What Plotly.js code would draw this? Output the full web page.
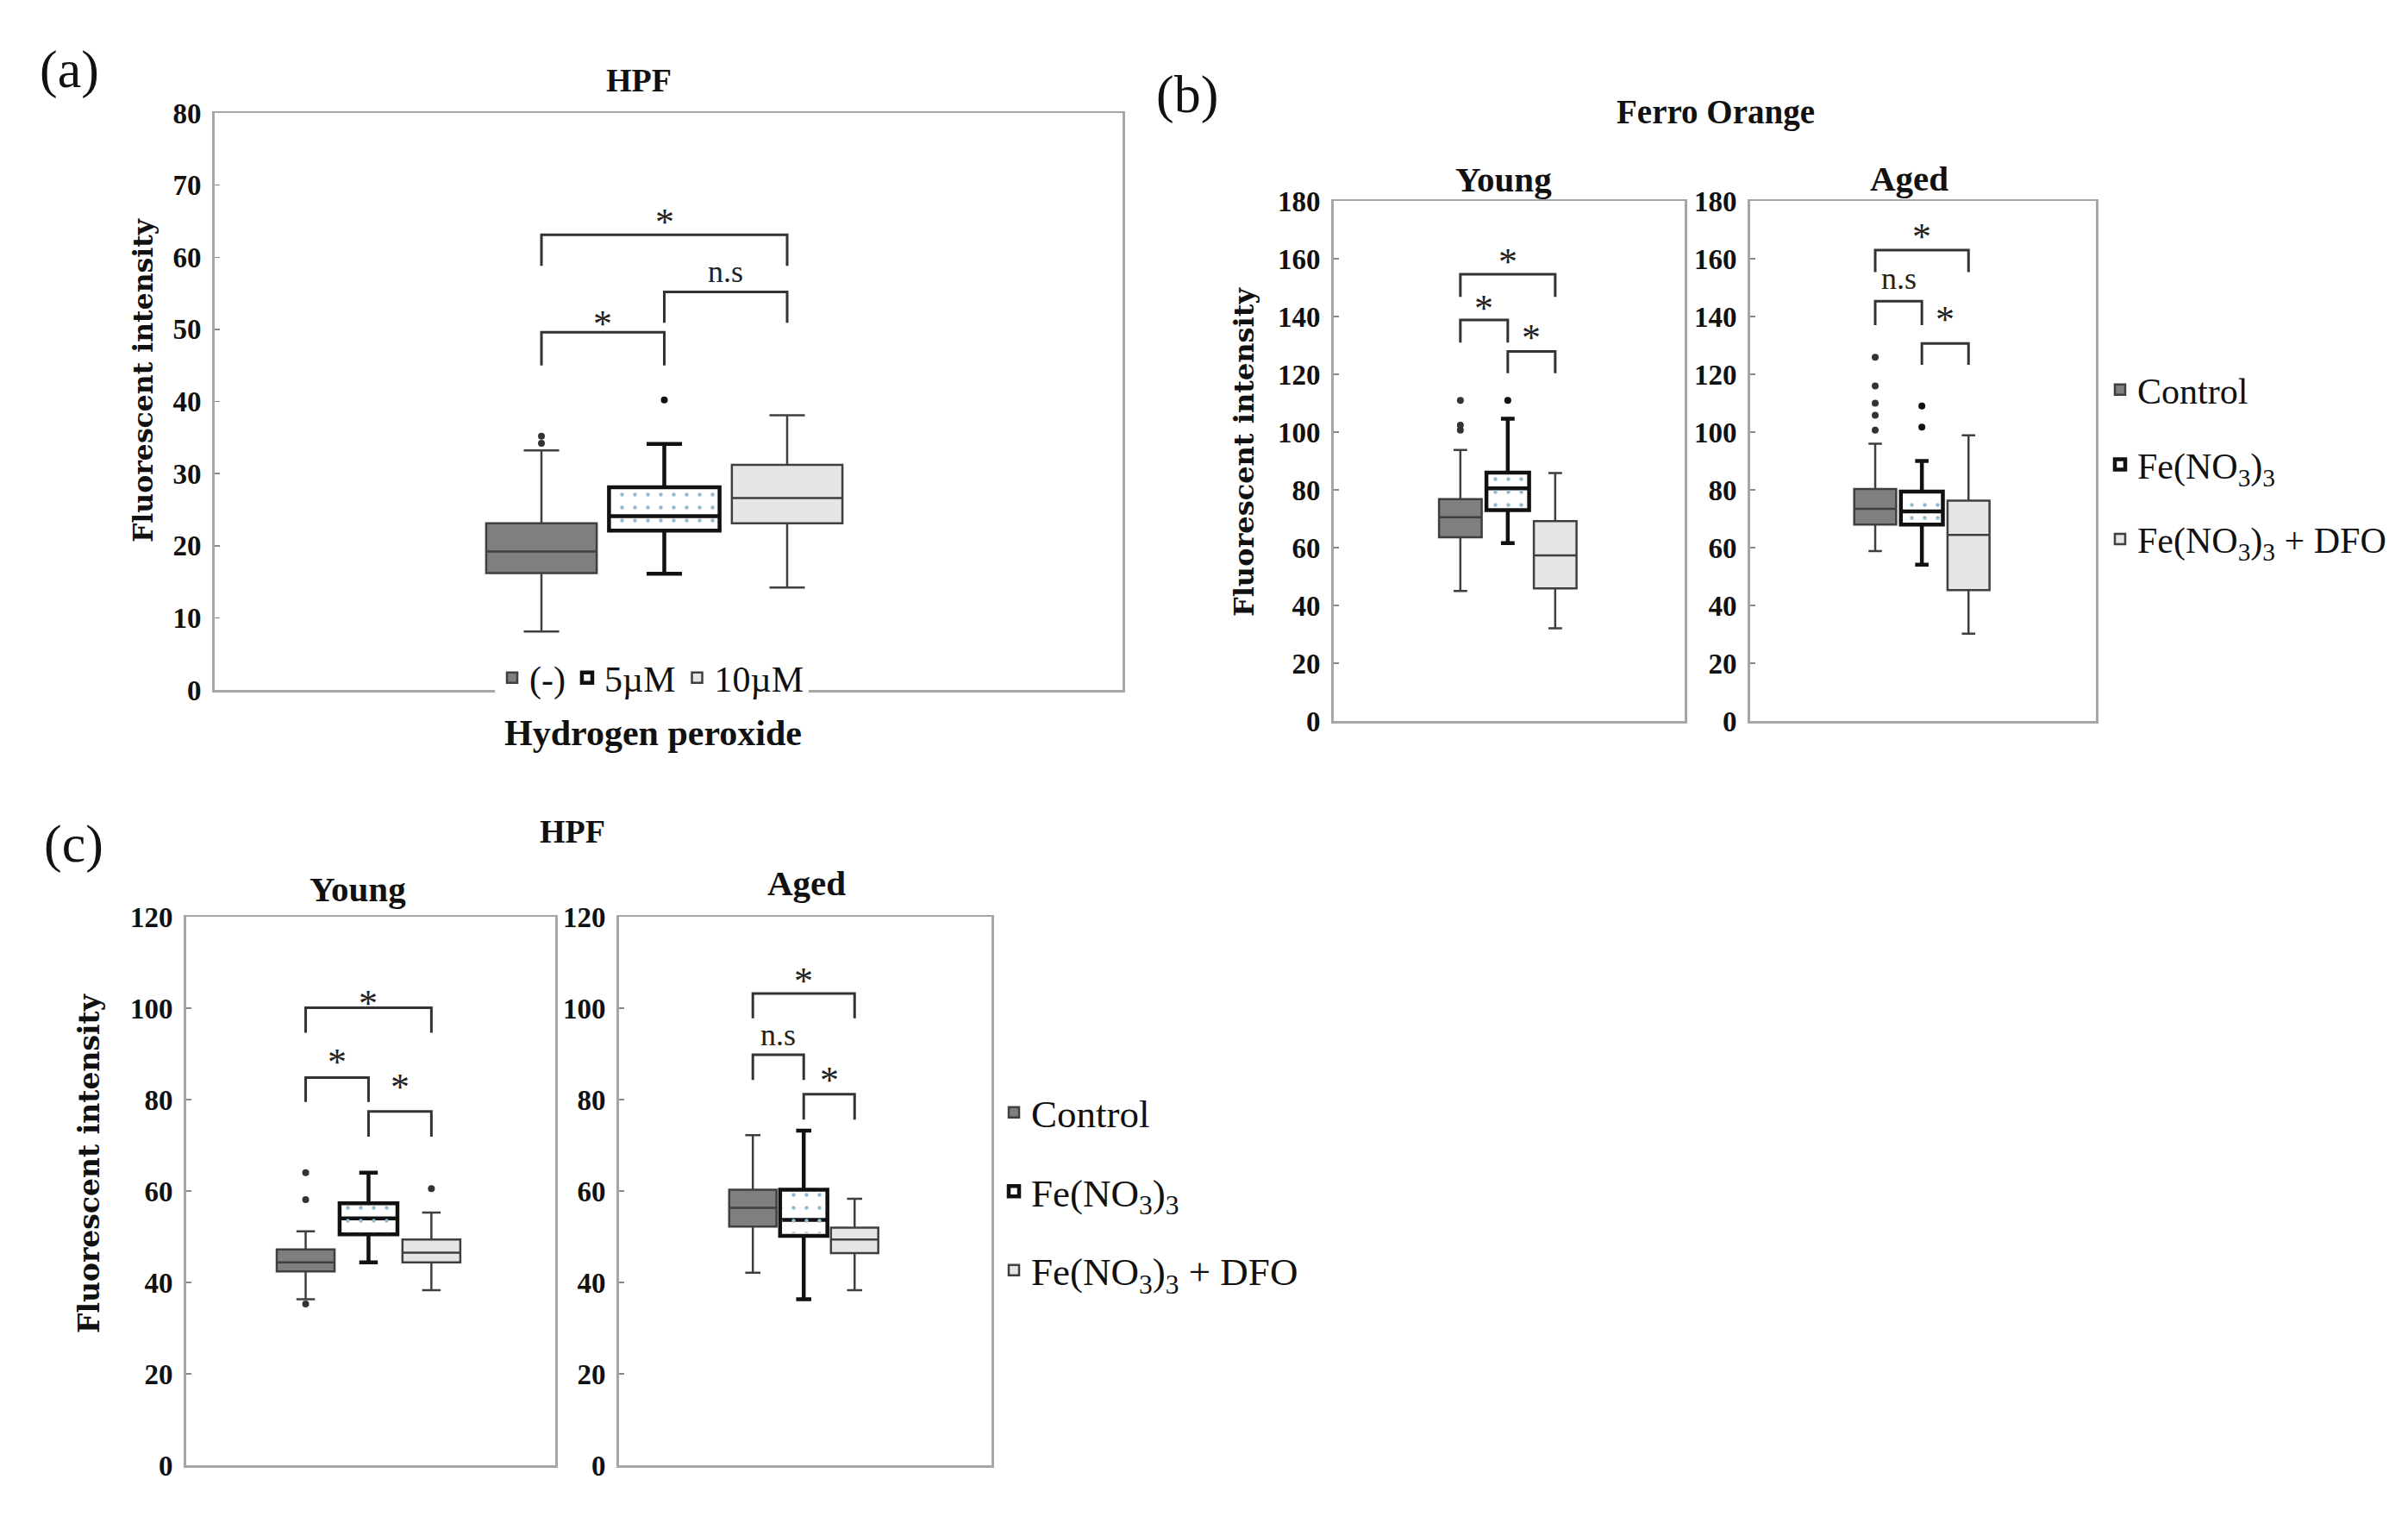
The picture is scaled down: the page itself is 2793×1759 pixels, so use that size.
<!DOCTYPE html>
<html>
<head>
<meta charset="utf-8">
<script src="https://cdn.plot.ly/plotly-3.0.1.min.js"></script>
<style>html,body{margin:0;padding:0;background:#fff}#chart{width:2793px;height:1759px}</style>
</head>
<body>
<div id="chart"></div>
<script>
// ================= DATA =================
// (a) HPF, hydrogen peroxide
const aNames = ['(-)', '5µM', '10µM'];
const aQ1 = [16.2, 22.1, 23.1];
const aMedian = [19.2, 24.1, 26.6];
const aQ3 = [23.1, 28.1, 31.2];
const aLow = [8.1, 16.1, 14.2];
const aHigh = [33.2, 34.1, 38.1];
const aOutliers = [[34.2, 35.2], [40.2], []];
const aBrFrom = [1, 2, 1];
const aBrTo = [2, 3, 3];
const aBrTop = [49.6, 55.2, 63.1];
const aBrLeg = [45.0, 50.9, 58.8];
const aBrLabel = ['*', 'n.s', '*'];
const aBrLabelY = [51.8, 58.0, 66.0];

// group names for (b) and (c)
const treatNames = ['Control', 'Fe(NO<sub>3</sub>)<sub>3</sub>', 'Fe(NO<sub>3</sub>)<sub>3</sub> + DFO'];

// (b) Ferro Orange – Young
const bYoungQ1 = [63.6, 73.0, 45.9];
const bYoungMedian = [70.5, 80.5, 57.3];
const bYoungQ3 = [76.8, 86.0, 69.2];
const bYoungLow = [45.0, 61.6, 32.1];
const bYoungHigh = [93.8, 104.6, 85.8];
const bYoungOutliers = [[100.7, 102.4, 111.0], [111.0], []];
const bYoungBrFrom = [1, 1, 2];
const bYoungBrTo = [3, 2, 3];
const bYoungBrTop = [154.6, 138.8, 127.9];
const bYoungBrLeg = [146.8, 131.0, 120.4];
const bYoungBrLabel = ['*', '*', '*'];
const bYoungBrLabelY = [161.7, 145.6, 135.3];

// (b) Ferro Orange – Aged
const bAgedQ1 = [68.0, 68.0, 45.3];
const bAgedMedian = [73.4, 72.5, 64.4];
const bAgedQ3 = [80.3, 79.4, 76.3];
const bAgedLow = [58.8, 54.1, 30.2];
const bAgedHigh = [96.0, 90.0, 98.9];
const bAgedOutliers = [[100.7, 105.8, 110.0, 116.0, 125.9], [101.7, 109.0], []];
const bAgedBrFrom = [1, 1, 2];
const bAgedBrTo = [3, 2, 3];
const bAgedBrTop = [163.0, 145.3, 130.7];
const bAgedBrLeg = [155.4, 137.0, 123.3];
const bAgedBrLabel = ['*', 'n.s', '*'];
const bAgedBrLabelY = [170.3, 153.0, 141.6];

// (c) HPF – Young
const cYoungQ1 = [42.4, 50.5, 44.4];
const cYoungMedian = [44.4, 54.0, 46.5];
const cYoungQ3 = [47.2, 57.3, 49.4];
const cYoungLow = [36.3, 44.4, 38.3];
const cYoungHigh = [51.2, 64.0, 55.3];
const cYoungOutliers = [[35.3, 58.1, 64.0], [], [60.5]];
const cYoungBrFrom = [1, 1, 2];
const cYoungBrTo = [3, 2, 3];
const cYoungBrTop = [100.1, 84.8, 77.4];
const cYoungBrLeg = [94.6, 79.5, 71.9];
const cYoungBrLabel = ['*', '*', '*'];
const cYoungBrLabelY = [102.7, 90.0, 84.5];

// (c) HPF – Aged
const cAgedQ1 = [52.2, 50.2, 46.4];
const cAgedMedian = [56.3, 53.7, 49.4];
const cAgedQ3 = [60.3, 60.3, 52.0];
const cAgedLow = [42.1, 36.3, 38.3];
const cAgedHigh = [72.2, 73.2, 58.3];
const cAgedOutliers = [[], [], []];
const cAgedBrFrom = [1, 1, 2];
const cAgedBrTo = [3, 2, 3];
const cAgedBrTop = [103.2, 89.8, 81.2];
const cAgedBrLeg = [97.8, 84.3, 75.6];
const cAgedBrLabel = ['*', 'n.s', '*'];
const cAgedBrLabelY = [107.7, 94.1, 86.0];

const groupPos = [1, 2, 3];

// ================= STYLE / LAYOUT =================
const W = 2793, H = 1759;
const SERIF = 'Liberation Serif, Times New Roman, serif';
const TITLESERIF = 'DejaVu Serif, Liberation Serif, serif';
const px = v => v / W;
const py = v => 1 - v / H;

const boxStyles = [
  {fill: '#7f7f7f', line: '#3f3f3f', lw: 2.5},
  {fill: '#ffffff', line: '#111111', lw: 4.5},
  {fill: '#e6e6e6', line: '#3f3f3f', lw: 2.5}
];

const panels = [
  {xa: 'x', ya: 'y', names: aNames, q1: aQ1, med: aMedian, q3: aQ3, lo: aLow, hi: aHigh, out: aOutliers,
   br: [aBrFrom, aBrTo, aBrTop, aBrLeg, aBrLabel, aBrLabelY], boxw: 0.9, legend: 'legend', showlegend: true},
  {xa: 'x2', ya: 'y2', names: treatNames, q1: bYoungQ1, med: bYoungMedian, q3: bYoungQ3, lo: bYoungLow, hi: bYoungHigh, out: bYoungOutliers,
   br: [bYoungBrFrom, bYoungBrTo, bYoungBrTop, bYoungBrLeg, bYoungBrLabel, bYoungBrLabelY], boxw: 0.9, legend: 'legend2', showlegend: true},
  {xa: 'x3', ya: 'y3', names: treatNames, q1: bAgedQ1, med: bAgedMedian, q3: bAgedQ3, lo: bAgedLow, hi: bAgedHigh, out: bAgedOutliers,
   br: [bAgedBrFrom, bAgedBrTo, bAgedBrTop, bAgedBrLeg, bAgedBrLabel, bAgedBrLabelY], boxw: 0.9, legend: 'legend2', showlegend: false},
  {xa: 'x4', ya: 'y4', names: treatNames, q1: cYoungQ1, med: cYoungMedian, q3: cYoungQ3, lo: cYoungLow, hi: cYoungHigh, out: cYoungOutliers,
   br: [cYoungBrFrom, cYoungBrTo, cYoungBrTop, cYoungBrLeg, cYoungBrLabel, cYoungBrLabelY], boxw: 0.92, legend: 'legend3', showlegend: true},
  {xa: 'x5', ya: 'y5', names: treatNames, q1: cAgedQ1, med: cAgedMedian, q3: cAgedQ3, lo: cAgedLow, hi: cAgedHigh, out: cAgedOutliers,
   br: [cAgedBrFrom, cAgedBrTo, cAgedBrTop, cAgedBrLeg, cAgedBrLabel, cAgedBrLabelY], boxw: 0.93, legend: 'legend3', showlegend: false}
];

const traces = [];
const shapes = [];
const annotations = [];

panels.forEach((p, pi) => {
  for (let i = 0; i < 3; i++) {
    const st = boxStyles[i];
    traces.push({
      type: 'box', name: p.names[i], x: [groupPos[i]],
      q1: [p.q1[i]], median: [p.med[i]], q3: [p.q3[i]],
      lowerfence: [p.lo[i]], upperfence: [p.hi[i]],
      boxpoints: false, width: p.boxw, whiskerwidth: 0.32,
      fillcolor: st.fill, line: {color: st.line, width: st.lw},
      xaxis: p.xa, yaxis: p.ya, legend: p.legend, legendgroup: 'g' + pi + '_' + i,
      showlegend: p.showlegend, hoverinfo: 'skip'
    });
    // faint dotted pattern inside the Fe(NO3)3 / 5µM box
    if (i === 1) {
      const c = groupPos[i], hw = p.boxw / 2 - 0.04;
      const span = p.q3[i] - p.q1[i], pad = span * 0.06;
      traces.push({
        type: 'scatter', mode: 'lines', xaxis: p.xa, yaxis: p.ya, showlegend: false, hoverinfo: 'skip',
        x: [c - hw, c + hw, c + hw, c - hw, c - hw],
        y: [p.q1[i] + pad, p.q1[i] + pad, p.q3[i] - pad, p.q3[i] - pad, p.q1[i] + pad],
        fill: 'toself', fillcolor: 'rgba(0,0,0,0)', line: {width: 0, color: 'rgba(0,0,0,0)'},
        fillpattern: {shape: '.', fgcolor: '#94b8cc', bgcolor: 'rgba(0,0,0,0)', size: 15, solidity: 0.07}
      });
    }
    if (p.out[i].length) {
      traces.push({
        type: 'scatter', mode: 'markers', xaxis: p.xa, yaxis: p.ya, showlegend: false, hoverinfo: 'skip',
        x: p.out[i].map(() => groupPos[i]), y: p.out[i],
        marker: {size: 8, color: i === 1 ? '#111' : '#333', line: {width: 0}}
      });
    }
  }
  const [from, to, top, leg, lab, labY] = p.br;
  for (let k = 0; k < from.length; k++) {
    const x1 = groupPos[from[k] - 1], x2 = groupPos[to[k] - 1];
    shapes.push({
      type: 'path', xref: p.xa, yref: p.ya,
      path: `M ${x1},${leg[k]} L ${x1},${top[k]} L ${x2},${top[k]} L ${x2},${leg[k]}`,
      line: {color: '#333', width: 3}
    });
    const isStar = lab[k] === '*';
    annotations.push({
      xref: p.xa, yref: p.ya, x: (x1 + x2) / 2, y: labY[k], text: lab[k], showarrow: false,
      xanchor: 'center', yanchor: 'middle', yshift: isStar ? -9 : 0,
      font: {family: SERIF, size: isStar ? 44 : 36, color: '#222'}
    });
  }
});

function xAxis(d0, d1, range, anchor) {
  return {domain: [px(d0), px(d1)], range: range, anchor: anchor, showticklabels: false, ticks: '',
    showgrid: false, zeroline: false, showline: true, mirror: true, linecolor: '#a6a6a6', linewidth: 2.5, fixedrange: true};
}
function yAxis(d0, d1, range, dtick, anchor) {
  return {domain: [py(d1), py(d0)], range: range, dtick: dtick, anchor: anchor, ticks: 'inside', ticklen: 6,
    tickcolor: '#888', tickwidth: 1.5, showgrid: false, zeroline: false, showline: true, mirror: true,
    linecolor: '#a6a6a6', linewidth: 3, ticklabelstandoff: 6,
    tickfont: {family: SERIF, size: 33, color: '#111', weight: 'bold'}, fixedrange: true};
}

const label = (x, y, text, size, opts) => Object.assign({xref: 'paper', yref: 'paper', x: px(x), y: py(y), text: text,
  showarrow: false, xanchor: 'center', yanchor: 'middle', font: {family: SERIF, size: size, color: '#111'}}, opts || {});
const yTitleFont = s => ({family: TITLESERIF, size: s, color: '#111', weight: 'bold'});

const layout = {
  width: W, height: H, margin: {l: 0, r: 0, t: 0, b: 0},
  paper_bgcolor: '#fff', plot_bgcolor: '#fff', boxmode: 'overlay', hovermode: false,
  font: {family: SERIF, color: '#111'},
  xaxis: xAxis(249, 1302, [-1.66, 5.73], 'y'),
  yaxis: yAxis(131, 800, [0, 80], 10, 'x'),
  xaxis2: xAxis(1547, 1954, [-1.67, 5.73], 'y2'),
  yaxis2: yAxis(233, 836, [0, 180], 20, 'x2'),
  xaxis3: xAxis(2030, 2431, [-1.68, 5.73], 'y3'),
  yaxis3: yAxis(233, 836, [0, 180], 20, 'x3'),
  xaxis4: xAxis(216, 644, [-0.9, 4.97], 'y4'),
  yaxis4: yAxis(1063, 1699, [0, 120], 20, 'x4'),
  xaxis5: xAxis(718, 1150, [-1.63, 5.69], 'y5'),
  yaxis5: yAxis(1063, 1699, [0, 120], 20, 'x5'),
  legend: {orientation: 'h', x: px(756), xanchor: 'center', y: py(786), yanchor: 'middle',
    bgcolor: '#fff', font: {family: SERIF, size: 42, color: '#111'}, itemwidth: 30, tracegroupgap: 0},
  legend2: {x: px(2439), xanchor: 'left', y: py(418), yanchor: 'top', bgcolor: 'rgba(0,0,0,0)',
    font: {family: SERIF, size: 42, color: '#111'}, itemwidth: 30, tracegroupgap: 29, traceorder: 'grouped'},
  legend3: {x: px(1156), xanchor: 'left', y: py(1254), yanchor: 'top', bgcolor: 'rgba(0,0,0,0)',
    font: {family: SERIF, size: 45, color: '#111'}, itemwidth: 30, tracegroupgap: 30, traceorder: 'grouped'},
  shapes: shapes,
  annotations: annotations.concat([
    label(80, 80, '(a)', 62),
    label(741, 93, '<b>HPF</b>', 38),
    label(757, 850, '<b>Hydrogen peroxide</b>', 42),
    label(165, 441, '<b>Fluorescent intensity</b>', 31.5, {textangle: -90, font: yTitleFont(31.5)}),
    label(1377, 110, '(b)', 62),
    label(1990, 130, '<b>Ferro Orange</b>', 39),
    label(1744, 208, '<b>Young</b>', 41),
    label(2214, 207, '<b>Aged</b>', 41),
    label(1443, 524, '<b>Fluorescent intensity</b>', 32, {textangle: -90, font: yTitleFont(32)}),
    label(85, 978, '(c)', 62),
    label(664, 964, '<b>HPF</b>', 38),
    label(415, 1031, '<b>Young</b>', 41),
    label(935, 1024, '<b>Aged</b>', 41),
    label(103, 1349, '<b>Fluorescent intensity</b>', 33, {textangle: -90, font: yTitleFont(33)})
  ])
};

Plotly.newPlot('chart', traces, layout, {staticPlot: true, displayModeBar: false});
</script>
</body>
</html>
